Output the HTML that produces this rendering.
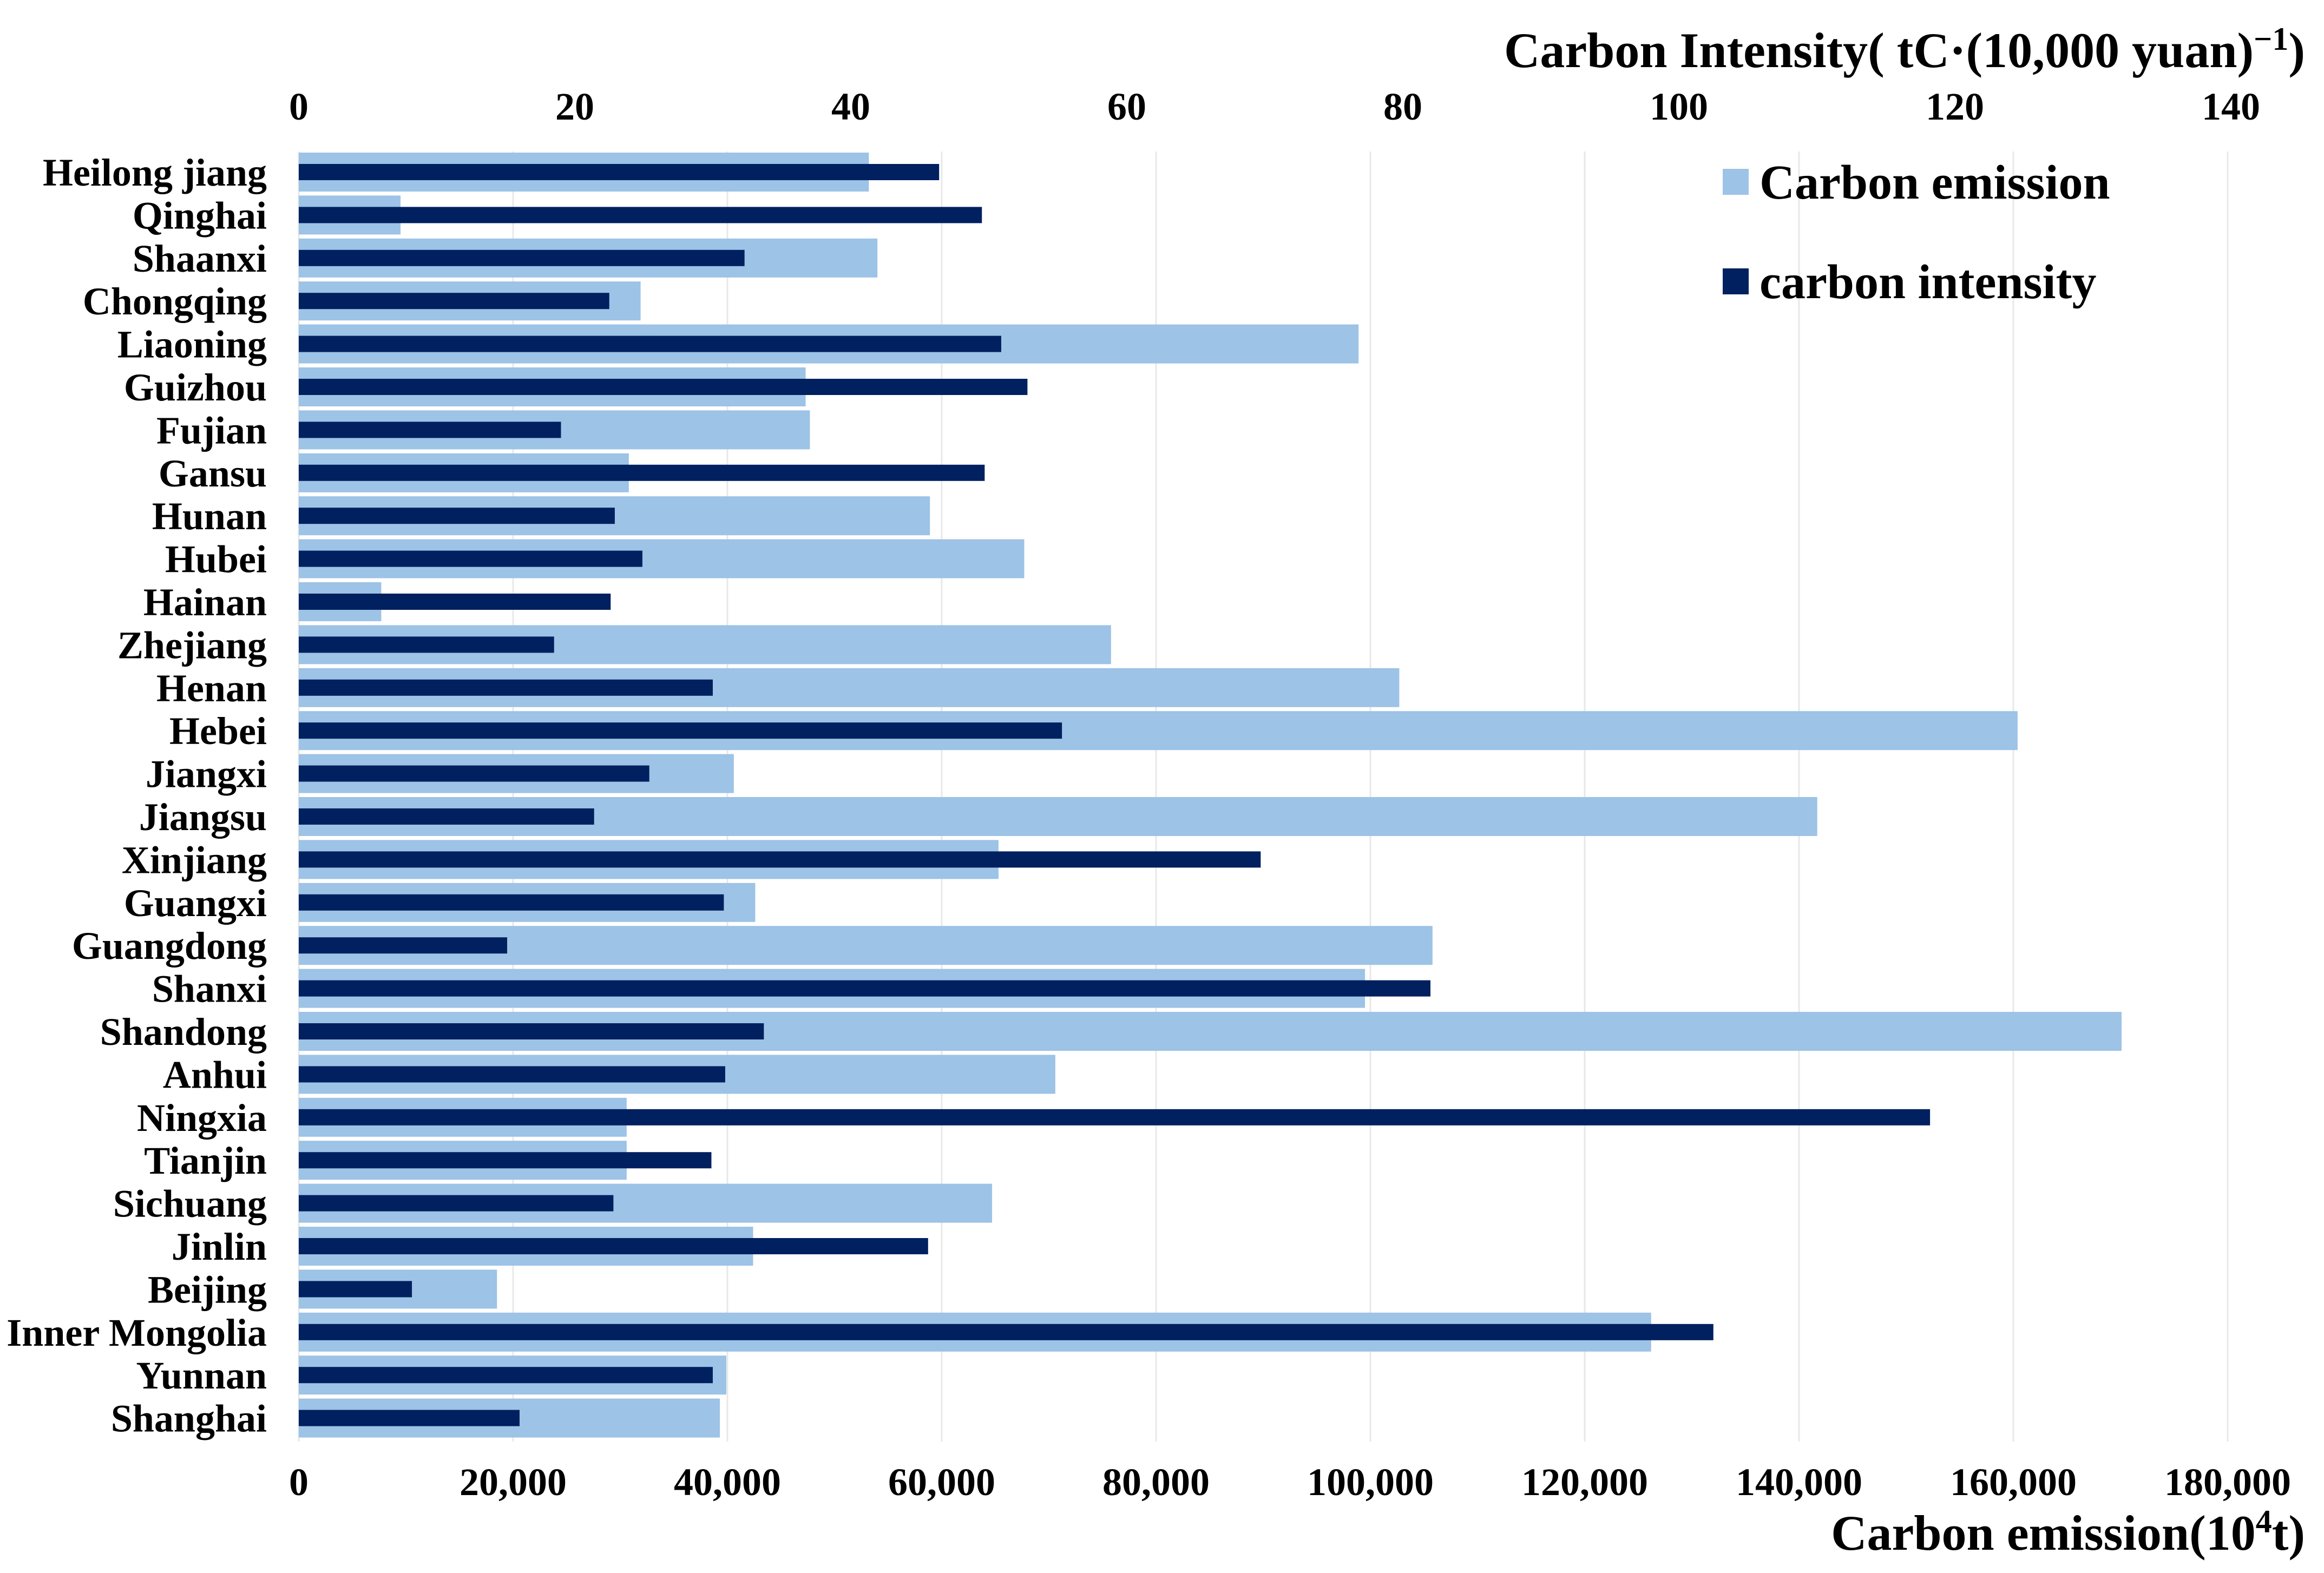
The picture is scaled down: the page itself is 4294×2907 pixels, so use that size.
<!DOCTYPE html>
<html><head><meta charset="utf-8">
<style>
html,body{margin:0;padding:0;background:#fff;}
svg{display:block;font-family:"Liberation Serif",serif;font-weight:bold;}
</style></head>
<body>
<svg id="chart" width="4294" height="2907" viewBox="0 0 4294 2907" xmlns="http://www.w3.org/2000/svg">
<rect width="4294" height="2907" fill="#fff"/>
<g id="grid"></g>
<g id="bars"></g>
<g id="labels"></g>
<text x="4259" y="124" text-anchor="end" font-size="92">Carbon Intensity( tC·(10,000 yuan)<tspan font-size="60" dy="-32">−1</tspan><tspan dy="32">)</tspan></text>
<text x="4259" y="2864" text-anchor="end" font-size="92">Carbon emission(10<tspan font-size="60" dy="-32">4</tspan><tspan dy="32">t)</tspan></text>
<g>
<rect x="3183" y="312" width="48" height="48" fill="#9DC3E6"/>
<text x="3251" y="367" font-size="90">Carbon emission</text>
<rect x="3183" y="496" width="48" height="48" fill="#002060"/>
<text x="3251" y="551" font-size="90">carbon intensity</text>
</g>
</svg>
<script>
const categories = ["Heilong jiang","Qinghai","Shaanxi","Chongqing","Liaoning","Guizhou","Fujian","Gansu","Hunan","Hubei","Hainan","Zhejiang","Henan","Hebei","Jiangxi","Jiangsu","Xinjiang","Guangxi","Guangdong","Shanxi","Shandong","Anhui","Ningxia","Tianjin","Sichuang","Jinlin","Beijing","Inner Mongolia","Yunnan","Shanghai"];
const emission = [53200,9500,54000,31900,98900,47300,47700,30800,58900,67700,7700,75800,102700,160400,40600,141700,65300,42600,105800,99500,170100,70600,30600,30600,64700,42400,18500,126200,39900,39300];
const intensity = [46.4,49.5,32.3,22.5,50.9,52.8,19.0,49.7,22.9,24.9,22.6,18.5,30.0,55.3,25.4,21.4,69.7,30.8,15.1,82.0,33.7,30.9,118.2,29.9,22.8,45.6,8.2,102.5,30.0,16.0];
const bottomTicks = [0,20000,40000,60000,80000,100000,120000,140000,160000,180000];
const bottomTickLabels = ["0","20,000","40,000","60,000","80,000","100,000","120,000","140,000","160,000","180,000"];
const topTicks = [0,20,40,60,80,100,120,140];

const NS="http://www.w3.org/2000/svg";
const X0=552, X1=4116, PLOT_TOP=280, PLOT_BOTTOM=2664;
const ROW0=282, ROWSTEP=79.4, BAR_H=72, DARK_H=30;
function xE(v){return X0+(v/180000)*(X1-X0);}
function xI(v){return X0+(v/140)*(4122-X0);}
function mk(tag,attrs,parent){const e=document.createElementNS(NS,tag);for(const k in attrs)e.setAttribute(k,attrs[k]);parent.appendChild(e);return e;}
const grid=document.getElementById('grid'),bars=document.getElementById('bars'),labels=document.getElementById('labels');
bottomTicks.forEach((t,i)=>{
  const x=xE(t);
  const l=mk('line',{x1:x,x2:x,y1:PLOT_TOP,y2:PLOT_BOTTOM,stroke:'#e8e8e8','stroke-width':3},grid);
  
  
  const tx=mk('text',{x:x,y:2763,'text-anchor':'middle','font-size':72},labels);
  tx.textContent=bottomTickLabels[i];
  
  
});
topTicks.forEach(t=>{
  const tx=mk('text',{x:xI(t),y:221,'text-anchor':'middle','font-size':72},labels);
  tx.textContent=String(t);
  
  
});
categories.forEach((c,i)=>{
  const top=ROW0+i*ROWSTEP, cy=top+BAR_H/2;
  const r=mk('rect',{x:X0,y:top,width:xE(emission[i])-X0,height:BAR_H,fill:'#9DC3E6'},bars);
  
  
  const d=mk('rect',{x:X0,y:cy-DARK_H/2,width:xI(intensity[i])-X0,height:DARK_H,fill:'#002060'},bars);
  
  
  const tx=mk('text',{x:493,y:cy+25,'text-anchor':'end','font-size':72},labels);
  tx.textContent=c;
  
  
});
</script>
</body></html>
